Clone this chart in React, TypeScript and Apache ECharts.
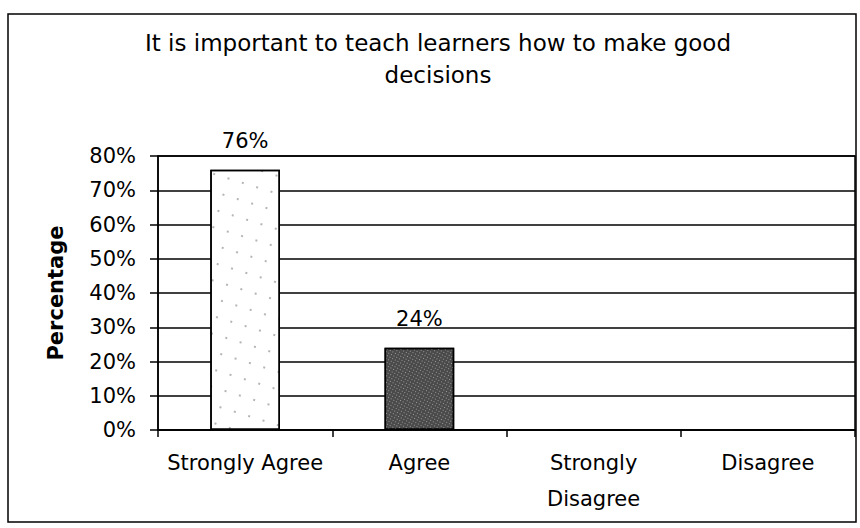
import React, { useEffect, useRef } from "react";
import * as echarts from "echarts";

const categories = ["Strongly Agree", "Agree", "Strongly\nDisagree", "Disagree"];
const percentages = [76, 24, 0, 0];
const yTicks = { min: 0, max: 80, interval: 10 };
const titleText = "It is important to teach learners how to make good\ndecisions";
const yAxisName = "Percentage";

const FONT = "DejaVu Sans";

export default function App() {
  const ref = useRef<HTMLDivElement>(null);
  useEffect(() => {
    document.body.style.margin = "0";
    const chart = echarts.init(ref.current!, null, { renderer: "svg" });
    const barStyles = [
      {
        color: "#ffffff",
        borderColor: "#000",
        borderWidth: 1.5,
        decal: {
          symbol: "circle",
          symbolSize: 0.8,
          color: "rgba(0,0,0,0.45)",
          dashArrayX: [2, 13],
          dashArrayY: [2, 15],
          rotation: 0.3,
        },
      },
      {
        color: "#4a4a4a",
        borderColor: "#000",
        borderWidth: 1.5,
        decal: {
          symbol: "rect",
          symbolSize: 1,
          color: "rgba(255,255,255,0.45)",
          dashArrayX: [1, 2],
          dashArrayY: [1, 2],
          rotation: 0.5,
        },
      },
      { color: "#fff", borderColor: "#000", borderWidth: 1.5 },
      { color: "#fff", borderColor: "#000", borderWidth: 1.5 },
    ];
    chart.setOption({
      animation: false,
      backgroundColor: "#ffffff",
      title: {
        text: titleText,
        left: 438,
        top: 27,
        padding: 0,
        textAlign: "center",
        textStyle: {
          fontFamily: FONT,
          fontSize: 23,
          fontWeight: "normal",
          color: "#000",
          lineHeight: 32,
        },
      },
      graphic: [
        {
          type: "rect",
          shape: { x: 8, y: 14, width: 848, height: 508 },
          style: { fill: "none", stroke: "#000", lineWidth: 1.5 },
          silent: true,
          z: -1,
        },
      ],
      grid: {
        left: 158,
        right: 5,
        top: 156,
        bottom: 98,
        show: true,
        borderColor: "#000",
        borderWidth: 1.5,
        backgroundColor: "transparent",
      },
      xAxis: {
        type: "category",
        data: categories,
        axisLine: { lineStyle: { color: "#000", width: 1.5 } },
        axisTick: { show: true, length: 7, lineStyle: { color: "#000", width: 1.5 } },
        axisLabel: {
          color: "#000",
          fontFamily: FONT,
          fontSize: 21,
          lineHeight: 36,
          margin: 15,
          interval: 0,
        },
        splitLine: { show: false },
      },
      yAxis: {
        type: "value",
        min: yTicks.min,
        max: yTicks.max,
        interval: yTicks.interval,
        name: yAxisName,
        nameLocation: "middle",
        nameGap: 92,
        nameTextStyle: {
          color: "#000",
          fontFamily: FONT,
          fontSize: 21,
          fontWeight: "bold",
        },
        axisLine: { show: true, lineStyle: { color: "#000", width: 1.5 } },
        axisTick: { show: true, length: 8, lineStyle: { color: "#000", width: 1.5 } },
        axisLabel: {
          color: "#000",
          fontFamily: FONT,
          fontSize: 21,
          margin: 22,
          formatter: "{value}%",
        },
        splitLine: { show: true, lineStyle: { color: "#000", width: 1.5 } },
      },
      series: [
        {
          type: "bar",
          barWidth: "40%",
          data: percentages.map((v, i) => ({ value: v, itemStyle: barStyles[i] })),
          label: {
            show: true,
            position: "top",
            distance: 18,
            color: "#000",
            fontFamily: FONT,
            fontSize: 21,
            formatter: (p: any) => (p.value > 0 ? p.value + "%" : ""),
          },
        },
      ],
    });
    return () => chart.dispose();
  }, []);
  return <div ref={ref} style={{ width: 860, height: 528 }} />;
}
